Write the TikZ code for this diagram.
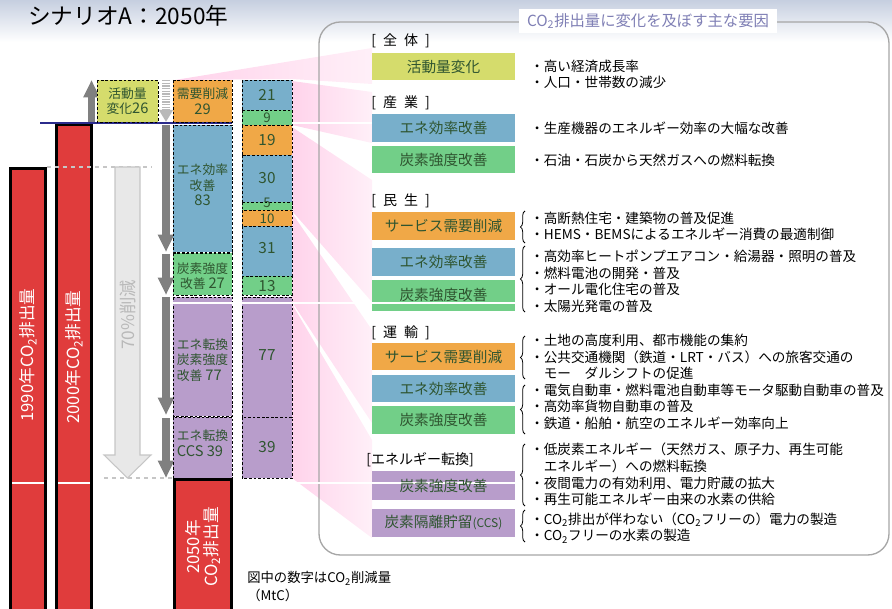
\documentclass[tikz,border=0pt]{standalone}
\usepackage{fontspec}
\setmainfont{Noto Sans CJK JP}
\usetikzlibrary{arrows.meta,decorations.pathreplacing}
\definecolor{barred}{HTML}{E03C3C}
\definecolor{kdorange}{HTML}{F0A847}
\definecolor{kdblue}{HTML}{78AFCB}
\definecolor{kdgreen}{HTML}{72CF88}
\definecolor{kdpurple}{HTML}{B89DCB}
\definecolor{kdyellow}{HTML}{D5DC6C}
\definecolor{boxtext}{HTML}{2F5530}
\definecolor{fanpink}{HTML}{FFD3EB}
\definecolor{paneltitle}{HTML}{7F7FB5}
\definecolor{arrowgray}{HTML}{808080}
\definecolor{bggray}{HTML}{C6CFE0}
\definecolor{lineblue}{HTML}{2B2B8C}
\newcommand{\bignum}[1]{{\fontsize{11}{11.6}\selectfont #1}}
\begin{document}
\begin{tikzpicture}[x=0.75pt,y=-0.75pt,
  seg/.style={draw=black,line width=0.7pt,dash pattern=on 2pt off 1.4pt},
  redbar/.style={fill=barred,draw=black,line width=2.2pt},
  boxlbl/.style={text=boxtext,inner sep=0pt,align=center,font=\fontsize{9.6}{11.6}\selectfont},
  numlbl/.style={text=boxtext,inner sep=0pt,font=\fontsize{11.5}{12}\selectfont},
  smallnum/.style={text=boxtext,inner sep=0pt,font=\fontsize{10}{10}\selectfont},
  bartxt/.style={rotate=90,text=white,inner sep=0pt,align=center,font=\fontsize{12.5}{13}\selectfont},
  downarr/.style={draw=arrowgray,line width=5.4pt,-{Triangle[width=11.5pt,length=13pt]}},
  fan/.style={left color=fanpink,right color=fanpink!35},
  factor/.style={text=boxtext,inner sep=0pt,font=\fontsize{11}{12}\selectfont},
  sect/.style={anchor=west,inner sep=0pt,font=\fontsize{10.5}{12}\selectfont},
  item/.style={anchor=west,inner sep=0pt,align=left,font=\fontsize{10.2}{12.4}\selectfont},
  brc/.style={decorate,decoration={brace,amplitude=3.5pt},line width=0.6pt},
  grid/.style={white,line width=0.8pt}
]
\useasboundingbox (0,0) rectangle (892,609);
\shade[top color=bggray,bottom color=white] (0,0) rectangle (892,42);
\node[anchor=west,inner sep=0pt,font=\fontsize{17}{18}\selectfont] (title) at (28,16) {シナリオA：2050年};

\shade[fan] (175,80) -- (372,48) -- (372,84) -- (292,79) -- cycle;
\shade[fan] (292,81) -- (372,92) -- (372,143) -- (292,125) -- cycle;
\shade[fan] (292,127) -- (372,180) -- (372,302) -- (292,211) -- cycle;
\shade[fan] (292,213) -- (372,330) -- (372,423) -- (292,302) -- cycle;
\shade[fan] (292,304) -- (372,440) -- (372,538) -- (292,478) -- cycle;

\draw[gray!70,line width=1pt,rounded corners=16pt] (319,22) rectangle (889,555);
\node[fill=white,inner xsep=6pt,inner ysep=3pt,text=paneltitle,font=\fontsize{11.5}{13}\selectfont] (ptitle) at (648,21) {CO\textsubscript{2}排出量に変化を及ぼす主な要因};

\draw[redbar] (10.5,168.5) rectangle (45.5,614);
\draw[redbar] (56.5,124.5) rectangle (91.5,614);
\draw[redbar] (174.5,479.5) rectangle (231.5,614);
\node[bartxt] (t1990) at (28,355) {1990年CO\textsubscript{2}排出量};
\node[bartxt] (t2000) at (74,357) {2000年CO\textsubscript{2}排出量};
\node[bartxt] (t2050) at (203,547) {2050年\\CO\textsubscript{2}排出量};

\draw[gray!45,dashed,line width=0.8pt] (47,167) -- (152,167);
\draw[gray!45,dashed,line width=0.8pt] (104,478) -- (172,478);
\draw[fill=gray!18,draw=gray!45,line width=0.8pt] (115,167) -- (140,167) -- (140,455) -- (151,455) -- (127.5,478) -- (104,455) -- (115,455) -- cycle;
\node[rotate=90,inner sep=0pt,text=gray!55,font=\fontsize{13}{14}\selectfont] (cut70) at (128,315) {70\%削減};

\draw[lineblue,line width=1.2pt] (40,123) -- (232,123);

\draw[downarr] (91.5,122) -- (91.5,80);
\draw[gray!55,line width=5.6pt,dash pattern=on 1.1pt off 0.9pt,-{Triangle[width=10pt,length=9pt]}] (166,80) -- (166,122);
\draw[downarr] (166,125) -- (166,252);
\draw[downarr] (166,254) -- (166,295);
\draw[downarr] (166,297) -- (166,415);
\draw[downarr] (166,418) -- (166,478);

\draw[seg,fill=kdyellow] (97,80) rectangle (158,122);
\draw[seg,fill=kdorange] (173,80) rectangle (232,122);
\draw[seg,fill=kdblue] (173,125) rectangle (232,252);
\draw[seg,fill=kdgreen] (173,253) rectangle (232,295);
\draw[seg,fill=kdpurple] (173,297) rectangle (232,416);
\draw[seg,fill=kdpurple] (173,417) rectangle (232,478);
\node[boxlbl] (katsudo) at (127.5,101) {活動量\\変化\bignum{26}};
\node[boxlbl] (juyo) at (202.5,101) {需要削減\\\bignum{29}};
\node[boxlbl] (eneko) at (202.5,185) {エネ効率\\改善\\\bignum{83}};
\node[boxlbl] (tanso) at (202.5,276) {炭素強度\\改善 \bignum{27}};
\node[boxlbl,align=left] (tenkan) at (202.5,360) {エネ転換\\炭素強度\\改善 \bignum{77}};
\node[boxlbl,align=left] (ccs) at (202.5,443) {エネ転換\\\bignum{CCS 39}};

\draw[seg,fill=kdblue] (242,80) rectangle (292,110);
\draw[seg,fill=kdgreen] (242,110) rectangle (292,125);
\draw[seg,fill=kdorange] (242,125) rectangle (292,155);
\draw[seg,fill=kdblue] (242,155) rectangle (292,202);
\draw[seg,fill=kdgreen] (242,202) rectangle (292,210);
\draw[seg,fill=kdorange] (242,210) rectangle (292,226);
\draw[seg,fill=kdblue] (242,226) rectangle (292,276);
\draw[seg,fill=kdgreen] (242,276) rectangle (292,295);
\draw[seg,fill=kdpurple] (242,297) rectangle (292,417);
\draw[seg,fill=kdpurple] (242,417) rectangle (292,478);
\node[numlbl] (n21) at (267,95) {21};
\node[smallnum] (n9) at (267,117.5) {9};
\node[numlbl] (n19) at (267,140) {19};
\node[numlbl] (n30) at (267,178) {30};
\node[smallnum] (n5) at (267,203) {5};
\node[smallnum] (n10) at (267,219) {10};
\node[numlbl] (n31) at (267,248) {31};
\node[numlbl] (n13) at (267,286) {13};
\node[numlbl] (n77) at (267,355) {77};
\node[numlbl] (n39) at (267,447) {39};

\node[anchor=west,inner sep=0pt,align=left,font=\fontsize{10}{13.5}\selectfont] (note) at (247,587) {図中の数字はCO\textsubscript{2}削減量\\（MtC）};

\node[sect] (hZentai) at (371,41) {[\enspace 全\enspace 体\enspace ]};
\node[sect] (hSangyo) at (371,103) {[\enspace 産\enspace 業\enspace ]};
\node[sect] (hMinsei) at (371,201) {[\enspace 民\enspace 生\enspace ]};
\node[sect] (hUnyu) at (371,333) {[\enspace 運\enspace 輸\enspace ]};
\node[sect] (hTenkan) at (366,460) {[エネルギー転換]};

\fill[kdyellow] (372,53) rectangle (515,80);
\fill[kdblue] (372,114) rectangle (515,142);
\fill[kdgreen] (372,146) rectangle (515,173);
\fill[kdorange] (372,212) rectangle (515,240);
\fill[kdblue] (372,248) rectangle (515,276);
\fill[kdgreen] (372,280) rectangle (515,311);
\fill[kdorange] (372,343) rectangle (515,370);
\fill[kdblue] (372,375) rectangle (515,402);
\fill[kdgreen] (372,406) rectangle (515,434);
\fill[kdpurple] (372,471) rectangle (515,500);
\fill[kdpurple] (372,509) rectangle (515,537);

\draw[grid] (292,123) -- (372,123);
\draw[grid] (173,303) -- (516,303);
\draw[grid] (12,483) -- (44,483);
\draw[grid] (58,483) -- (90,483);
\draw[grid] (292,483) -- (516,483);

\node[factor] (fZentai) at (443.5,66.5) {活動量変化};
\node[factor] (fSangyo1) at (443.5,128) {エネ効率改善};
\node[factor] (fSangyo2) at (443.5,159.5) {炭素強度改善};
\node[factor] (fMinsei1) at (443.5,226) {サービス需要削減};
\node[factor] (fMinsei2) at (443.5,262) {エネ効率改善};
\node[factor] (fMinsei3) at (443.5,295) {炭素強度改善};
\node[factor] (fUnyu1) at (443.5,356.5) {サービス需要削減};
\node[factor] (fUnyu2) at (443.5,388.5) {エネ効率改善};
\node[factor] (fUnyu3) at (443.5,420) {炭素強度改善};
\node[factor] (fTenkan1) at (443.5,485.5) {炭素強度改善};
\node[factor] (fTenkan2) at (443.5,523) {炭素隔離貯留{\fontsize{9}{10}\selectfont(CCS)}};

\node[item] (zentaiT) at (530,74.5) {・高い経済成長率\\・人口・世帯数の減少};
\node[item] (sangyoT1) at (530,128) {・生産機器のエネルギー効率の大幅な改善};
\node[item] (sangyoT2) at (530,160) {・石油・石炭から天然ガスへの燃料転換};
\node[item] (minseiT1) at (530,226.5) {・高断熱住宅・建築物の普及促進\\・HEMS・BEMSによるエネルギー消費の最適制御};
\node[item] (minseiT2) at (530,281.5) {・高効率ヒートポンプエアコン・給湯器・照明の普及\\・燃料電池の開発・普及\\・オール電化住宅の普及\\・太陽光発電の普及};
\node[item] (unyuT1) at (530,357) {・土地の高度利用、都市機能の集約\\・公共交通機関（鉄道・LRT・バス）への旅客交通の\\　モー　ダルシフトの促進};
\node[item] (unyuT2) at (530,406.5) {・電気自動車・燃料電池自動車等モータ駆動自動車の普及\\・高効率貨物自動車の普及\\・鉄道・船舶・航空のエネルギー効率向上};
\node[item] (tenkanT1) at (530,474.5) {・低炭素エネルギー（天然ガス、原子力、再生可能\\　エネルギー）への燃料転換\\・夜間電力の有効利用、電力貯蔵の拡大\\・再生可能エネルギー由来の水素の供給};
\node[item] (tenkanT2) at (530,528) {・CO\textsubscript{2}排出が伴わない（CO\textsubscript{2}フリーの）電力の製造\\・CO\textsubscript{2}フリーの水素の製造};

\draw[brc] (525,243) -- (525,211);
\draw[brc] (525,312) -- (525,246);
\draw[brc] (525,379) -- (525,336);
\draw[brc] (525,434) -- (525,385);
\draw[brc] (525,506) -- (525,444);
\draw[brc] (525,542) -- (525,510);
\end{tikzpicture}
\end{document}
